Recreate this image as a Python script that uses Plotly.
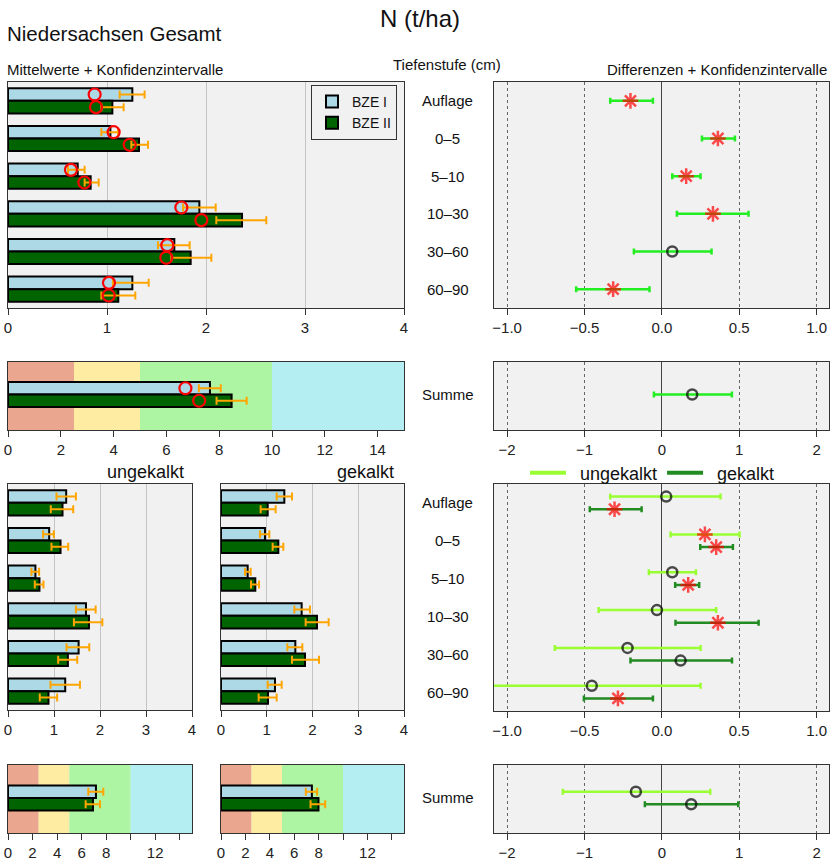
import plotly.graph_objects as go

W, H = 831, 863

# ---------------- data ----------------
depths = ["Auflage", "0–5", "5–10", "10–30", "30–60", "60–90"]
summe_label = ["Summe"]

# Gesamt: means, CI and medians
bze1_mean = [1.256, 1.034, 0.704, 1.933, 1.680, 1.256]
bze1_lo = [1.128, 0.943, 0.606, 1.768, 1.515, 1.060]
bze1_hi = [1.380, 1.111, 0.774, 2.098, 1.835, 1.421]
bze1_median = [0.875, 1.067, 0.636, 1.751, 1.609, 1.020]
bze2_mean = [1.054, 1.323, 0.835, 2.364, 1.845, 1.114]
bze2_lo = [0.943, 1.246, 0.774, 2.104, 1.650, 0.943]
bze2_hi = [1.168, 1.414, 0.916, 2.609, 2.054, 1.286]
bze2_median = [0.889, 1.229, 0.771, 1.953, 1.599, 1.017]

diff_mean = [-0.203, 0.362, 0.157, 0.330, 0.067, -0.315]
diff_lo = [-0.334, 0.259, 0.067, 0.097, -0.181, -0.554]
diff_hi = [-0.058, 0.472, 0.250, 0.560, 0.321, -0.080]
diff_sig = [True, True, True, True, False, True]

sum1_mean, sum1_lo, sum1_hi, sum1_median = [7.65], [7.23], [8.06], [6.72]
sum2_mean, sum2_lo, sum2_hi, sum2_median = [8.47], [7.90], [9.04], [7.24]
sum_diff, sum_diff_lo, sum_diff_hi, sum_diff_sig = [0.392], [-0.103], [0.905], [False]

# ungekalkt / gekalkt
ung1_mean = [1.265, 0.895, 0.596, 1.695, 1.535, 1.244]
ung1_lo = [1.055, 0.764, 0.509, 1.476, 1.273, 0.924]
ung1_hi = [1.476, 0.996, 0.676, 1.905, 1.767, 1.564]
ung2_mean = [1.185, 1.142, 0.684, 1.760, 1.302, 0.880]
ung2_lo = [0.930, 0.945, 0.582, 1.433, 1.091, 0.691]
ung2_hi = [1.418, 1.309, 0.771, 2.051, 1.505, 1.069]

gek1_mean = [1.384, 0.962, 0.583, 1.763, 1.625, 1.180]
gek1_lo = [1.217, 0.852, 0.525, 1.603, 1.450, 1.020]
gek1_hi = [1.552, 1.056, 0.649, 1.945, 1.778, 1.326]
gek2_mean = [1.020, 1.253, 0.750, 2.098, 1.836, 1.027]
gek2_lo = [0.867, 1.129, 0.656, 1.850, 1.552, 0.823]
gek2_hi = [1.195, 1.362, 0.831, 2.353, 2.142, 1.217]

ung_diff = [0.028, 0.278, 0.067, -0.032, -0.222, -0.453]
ung_diff_lo = [-0.334, 0.056, -0.084, -0.409, -0.692, -1.150]
ung_diff_hi = [0.379, 0.502, 0.220, 0.351, 0.250, 0.250]
ung_sig = [False, True, False, False, False, False]
gek_diff = [-0.306, 0.351, 0.170, 0.362, 0.121, -0.284]
gek_diff_lo = [-0.466, 0.248, 0.086, 0.088, -0.203, -0.504]
gek_diff_hi = [-0.131, 0.459, 0.241, 0.625, 0.453, -0.058]
gek_sig = [True, True, True, True, False, True]

ung_sum1_mean, ung_sum1_lo, ung_sum1_hi = [7.17], [6.55], [7.77]
ung_sum2_mean, ung_sum2_lo, ung_sum2_hi = [6.93], [6.33], [7.50]
gek_sum1_mean, gek_sum1_lo, gek_sum1_hi = [7.45], [6.95], [7.88]
gek_sum2_mean, gek_sum2_lo, gek_sum2_hi = [7.99], [7.34], [8.54]
ung_sum_diff, ung_sum_diff_lo, ung_sum_diff_hi, ung_sum_sig = [-0.336], [-1.28], [0.625], [False]
gek_sum_diff, gek_sum_diff_lo, gek_sum_diff_hi, gek_sum_sig = [0.379], [-0.22], [0.987], [False]

band_edges = [0, 2.5, 5, 10, 15]
band_colors = ["#eaa68e", "#fdeca2", "#adf5a2", "#b4eef2"]

# ---------------- style ----------------
FONT = "Liberation Sans, Arial, sans-serif"
C_BZE1 = "#add8e6"
C_BZE2 = "#006400"
C_ERR = "#ffa500"
C_DIFF = "#22ee22"
C_UNG = "#99ff33"
C_GEK = "#228b22"
C_BG = "#f1f1f1"
C_AX = "#333333"


def dom_x(a, b):
    return [a / W, b / W]


def dom_y(top, bottom):
    return [1 - bottom / H, 1 - top / H]


fig = go.Figure()


def err(mean, lo, hi, color, thick=2, width=4):
    return dict(type="data", symmetric=False,
                array=[h - m for m, h in zip(mean, hi)],
                arrayminus=[m - l for m, l in zip(mean, lo)],
                color=color, thickness=thick, width=width)


def add_bars(ax, cats, m1, l1, h1, m2, l2, h2, legend=False):
    xa, ya = ("x" + ax, "y" + ax)
    fig.add_trace(go.Bar(x=m1, y=cats, orientation="h", name="BZE I", offsetgroup="I",
                         marker=dict(color=C_BZE1, line=dict(color="black", width=2)),
                         error_x=err(m1, l1, h1, C_ERR), showlegend=legend,
                         xaxis=xa, yaxis=ya))
    fig.add_trace(go.Bar(x=m2, y=cats, orientation="h", name="BZE II", offsetgroup="II",
                         marker=dict(color=C_BZE2, line=dict(color="black", width=2)),
                         error_x=err(m2, l2, h2, C_ERR), showlegend=legend,
                         xaxis=xa, yaxis=ya))


def add_medians(ax, cats, med1, med2):
    for med, g in ((med1, "I"), (med2, "II")):
        fig.add_trace(go.Scatter(x=med, y=cats, mode="markers", orientation="h",
                                 offsetgroup=g, showlegend=False,
                                 marker=dict(symbol="circle-open", size=12, color="red",
                                             line=dict(width=2.2, color="red")),
                                 xaxis="x" + ax, yaxis="y" + ax))


def add_diff(ax, cats, d, lo, hi, sig, color, group=None):
    symbols = ["asterisk-open" if s else "circle-open" for s in sig]
    colors = ["red" if s else "black" for s in sig]
    sizes = [13 if s else 10 for s in sig]
    kw = dict(offsetgroup=group) if group else {}
    fig.add_trace(go.Scatter(x=d, y=cats, mode="markers", orientation="h", showlegend=False,
                             marker=dict(symbol=symbols, size=sizes, color=colors,
                                         line=dict(width=2.5, color=colors)),
                             error_x=err(d, lo, hi, color, thick=2.5, width=3),
                             xaxis="x" + ax, yaxis="y" + ax, **kw))


# --- panel 1: top-left means ---
add_bars("", depths, bze1_mean, bze1_lo, bze1_hi, bze2_mean, bze2_lo, bze2_hi, legend=True)
add_medians("", depths, bze1_median, bze2_median)
# --- panel 2: top-right diffs ---
add_diff("2", depths, diff_mean, diff_lo, diff_hi, diff_sig, C_DIFF)
# --- panel 3: summe left ---
add_bars("3", summe_label, sum1_mean, sum1_lo, sum1_hi, sum2_mean, sum2_lo, sum2_hi)
add_medians("3", summe_label, sum1_median, sum2_median)
# --- panel 4: summe diff ---
add_diff("4", summe_label, sum_diff, sum_diff_lo, sum_diff_hi, sum_diff_sig, C_DIFF)
# --- panel 5/6: ungekalkt / gekalkt ---
add_bars("5", depths, ung1_mean, ung1_lo, ung1_hi, ung2_mean, ung2_lo, ung2_hi)
add_bars("6", depths, gek1_mean, gek1_lo, gek1_hi, gek2_mean, gek2_lo, gek2_hi)
# --- panel 7: diffs ung/gek ---
add_diff("7", depths, ung_diff, ung_diff_lo, ung_diff_hi, ung_sig, C_UNG, group="u")
add_diff("7", depths, gek_diff, gek_diff_lo, gek_diff_hi, gek_sig, C_GEK, group="g")
# --- panel 8/9: summe ung/gek ---
add_bars("8", summe_label, ung_sum1_mean, ung_sum1_lo, ung_sum1_hi, ung_sum2_mean, ung_sum2_lo, ung_sum2_hi)
add_bars("9", summe_label, gek_sum1_mean, gek_sum1_lo, gek_sum1_hi, gek_sum2_mean, gek_sum2_lo, gek_sum2_hi)
# --- panel 10: summe diffs ---
add_diff("10", summe_label, ung_sum_diff, ung_sum_diff_lo, ung_sum_diff_hi, ung_sum_sig, C_UNG, group="u")
add_diff("10", summe_label, gek_sum_diff, gek_sum_diff_lo, gek_sum_diff_hi, gek_sum_sig, C_GEK, group="g")

# legend-only traces for second legend
for nm, col in (("ungekalkt", C_UNG), ("gekalkt", C_GEK)):
    fig.add_trace(go.Scatter(x=[None], y=[None], mode="lines", name="\u2002" + nm,
                             line=dict(color=col, width=4), legend="legend2",
                             xaxis="x7", yaxis="y7"))

# ---------------- axes ----------------
tickfont = dict(family=FONT, size=15, color="#222")
base_x = dict(showline=True, mirror=True, linecolor=C_AX, linewidth=1, ticks="outside",
              ticklen=6, tickcolor=C_AX, tickfont=tickfont, zeroline=False, fixedrange=True,
              automargin=False)
base_y = dict(showline=True, mirror=True, linecolor=C_AX, linewidth=1, showticklabels=False,
              ticks="", showgrid=False, zeroline=False, type="category", fixedrange=True,
              automargin=False)

mean_grid = dict(showgrid=True, gridcolor="#c4c4c4", gridwidth=1)
diff_grid = dict(showgrid=True, gridcolor="#666", griddash="dot", gridwidth=1,
                 zeroline=True, zerolinecolor="#444", zerolinewidth=1)

panels = {
    "": (dom_x(8, 404), dom_y(82, 308)),
    "2": (dom_x(494, 829), dom_y(82, 308)),
    "3": (dom_x(8, 404), dom_y(362, 430)),
    "4": (dom_x(494, 829), dom_y(362, 430)),
    "5": (dom_x(8, 192), dom_y(484, 710)),
    "6": (dom_x(221, 404), dom_y(484, 710)),
    "7": (dom_x(494, 829), dom_y(484, 711)),
    "8": (dom_x(8, 192), dom_y(765, 833)),
    "9": (dom_x(221, 404), dom_y(765, 833)),
    "10": (dom_x(494, 829), dom_y(765, 833)),
}

sum_ticks = list(range(0, 15, 2))
xcfg = {
    "": dict(range=[0, 4], tickvals=[0, 1, 2, 3, 4], **mean_grid),
    "2": dict(range=[-1.085, 1.08], tickvals=[-1, -0.5, 0, 0.5, 1],
              ticktext=["−1.0", "−0.5", "0.0", "0.5", "1.0"], **diff_grid),
    "3": dict(range=[0, 15], tickvals=sum_ticks, showgrid=False),
    "4": dict(range=[-2.17, 2.16], tickvals=[-2, -1, 0, 1, 2],
              ticktext=["−2", "−1", "0", "1", "2"], **diff_grid),
    "5": dict(range=[0, 4], tickvals=[0, 1, 2, 3, 4], **mean_grid),
    "6": dict(range=[0, 4], tickvals=[0, 1, 2, 3, 4], **mean_grid),
    "7": dict(range=[-1.085, 1.08], tickvals=[-1, -0.5, 0, 0.5, 1],
              ticktext=["−1.0", "−0.5", "0.0", "0.5", "1.0"], **diff_grid),
    "8": dict(range=[0, 15], tickvals=sum_ticks,
              ticktext=[str(v) if v not in (10, 14) else "" for v in sum_ticks], showgrid=False),
    "9": dict(range=[0, 15], tickvals=sum_ticks,
              ticktext=[str(v) if v not in (10, 14) else "" for v in sum_ticks], showgrid=False),
    "10": dict(range=[-2.17, 2.16], tickvals=[-2, -1, 0, 1, 2],
               ticktext=["−2", "−1", "0", "1", "2"], **diff_grid),
}

layout_axes = {}
for key, (dx, dy) in panels.items():
    xk = "xaxis" + key
    yk = "yaxis" + key
    xa = dict(base_x)
    xa.update(xcfg[key])
    xa.update(domain=dx, anchor="y" + key)
    ya = dict(base_y)
    if key in ("3", "4"):
        ya.update(range=[0.95, -0.87])
    elif key in ("8", "9", "10"):
        ya.update(range=[0.94, -0.885])
    else:
        ya.update(range=[5.5, -0.5])
    ya.update(domain=dy, anchor="x" + key)
    layout_axes[xk] = xa
    layout_axes[yk] = ya

fig.update_layout(**layout_axes)

# background bands in summe panels
shapes = []
for ax in ("3", "8", "9"):
    for i, col in enumerate(band_colors):
        shapes.append(dict(type="rect", xref="x" + ax, yref="y" + ax + " domain",
                           x0=band_edges[i], x1=band_edges[i + 1], y0=0, y1=1,
                           fillcolor=col, line=dict(width=0), layer="below"))
fig.update_layout(shapes=shapes)

# ---------------- text ----------------
ann = []


def txt(text, x, y, size, xanchor="left", yanchor="middle", xref="paper", yref="paper"):
    ann.append(dict(text=text, x=x, y=y, xref=xref, yref=yref, xanchor=xanchor,
                    yanchor=yanchor, showarrow=False, borderpad=0,
                    font=dict(family=FONT, size=size, color="#111")))


txt("N (t/ha)", 420 / W, 1 - 18 / H, 24, xanchor="center")
txt("Niedersachsen Gesamt", 6 / W, 1 - 33 / H, 20.5)
txt("Mittelwerte + Konfidenzintervalle", 6 / W, 1 - 69 / H, 15)
txt("Tiefenstufe (cm)", 447 / W, 1 - 64 / H, 15, xanchor="center")
txt("Differenzen + Konfidenzintervalle", 828 / W, 1 - 69 / H, 15, xanchor="right")
txt("ungekalkt", 185 / W, 1 - 472 / H, 18, xanchor="right")
txt("gekalkt", 395 / W, 1 - 472 / H, 18, xanchor="right")

for ax in ("2", "7"):
    for c in depths:
        txt(c, 448 / W, c, 15, xanchor="center", yref="y" + ax)
for ax in ("4", "10"):
    for c in summe_label:
        txt(c, 448 / W, c, 15, xanchor="center", yref="y" + ax)

fig.update_layout(annotations=ann)

fig.update_layout(
    width=W, height=H, margin=dict(l=0, r=0, t=0, b=0, autoexpand=False),
    paper_bgcolor="white", plot_bgcolor=C_BG,
    barmode="group", bargap=0.33, bargroupgap=0,
    scattermode="group", scattergap=0.33,
    font=dict(family=FONT, color="#111"),
    legend=dict(x=397 / W, xanchor="right", y=1 - 85 / H, yanchor="top",
                bgcolor=C_BG, bordercolor=C_AX, borderwidth=1,
                font=dict(family=FONT, size=14), tracegroupgap=0),
    legend2=dict(x=525 / W, xanchor="left", y=1 - 473 / H, yanchor="middle",
                 orientation="h", bgcolor="rgba(0,0,0,0)",
                 font=dict(family=FONT, size=18), itemwidth=36),
)

fig.write_html("out.html", config={"displayModeBar": False},
               post_script="document.body.style.margin='0';document.body.style.overflow='hidden';")
